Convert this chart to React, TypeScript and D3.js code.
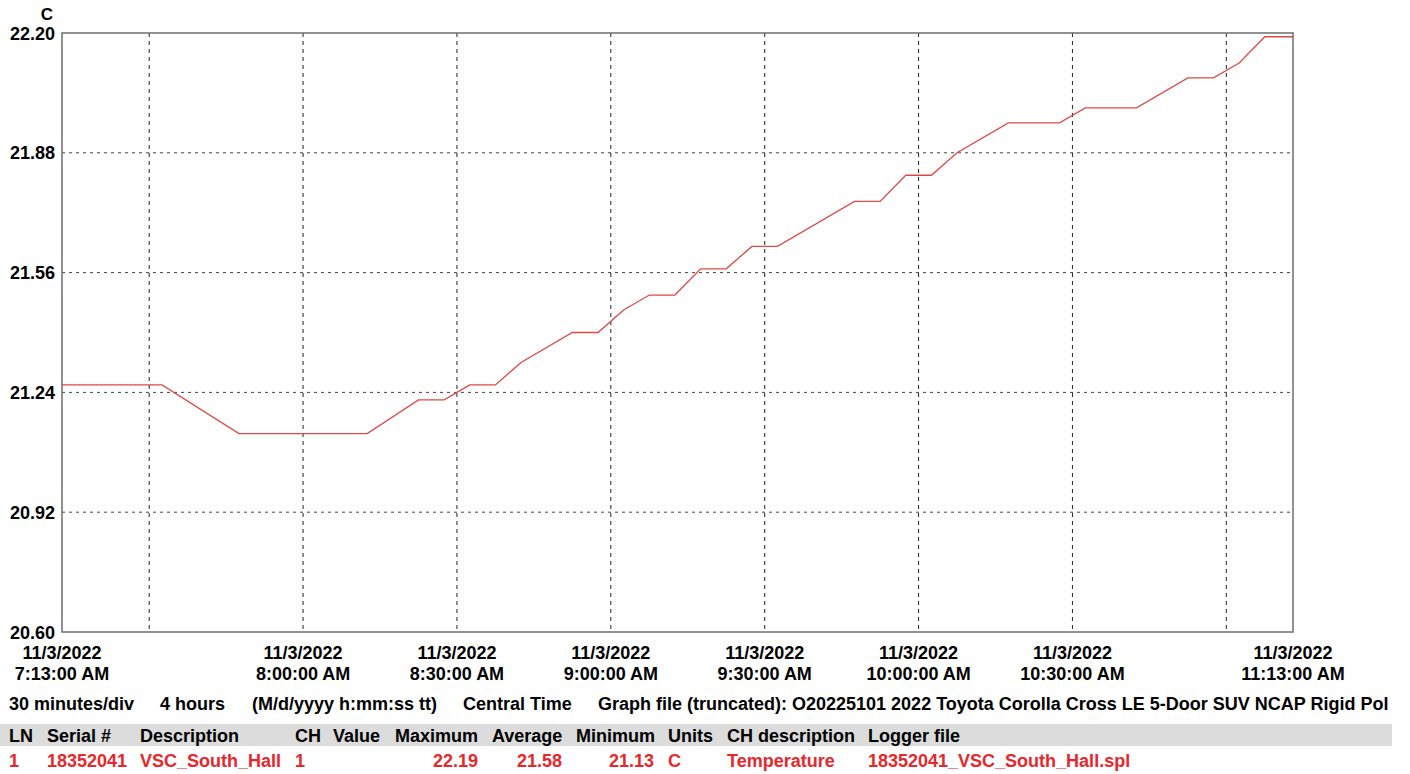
import React from "react";
import * as d3 from "d3";

const sampleTimes = [
  "7:13:00", "7:32:30", "7:47:30", "8:12:30", "8:22:30", "8:27:30", "8:32:30", "8:37:30",
  "8:42:30", "8:52:30", "8:57:30", "9:02:30", "9:07:30", "9:12:30", "9:17:30", "9:22:30",
  "9:27:30", "9:32:30", "9:47:30", "9:52:30", "9:57:30", "10:02:30", "10:07:30", "10:17:30",
  "10:27:30", "10:32:30", "10:42:30", "10:52:30", "10:57:30", "11:02:30", "11:07:30", "11:13:00",
];
const temperatures = [
  21.26, 21.26, 21.13, 21.13, 21.22, 21.22, 21.26, 21.26,
  21.32, 21.40, 21.40, 21.46, 21.50, 21.50, 21.57, 21.57,
  21.63, 21.63, 21.75, 21.75, 21.82, 21.82, 21.88, 21.96,
  21.96, 22.00, 22.00, 22.08, 22.08, 22.12, 22.19, 22.19,
];
const yTicks = [20.6, 20.92, 21.24, 21.56, 21.88, 22.2];
const xGridTimes = ["7:30:00", "8:00:00", "8:30:00", "9:00:00", "9:30:00", "10:00:00", "10:30:00", "11:00:00"];
const xLabelTimes = ["7:13:00", "8:00:00", "8:30:00", "9:00:00", "9:30:00", "10:00:00", "10:30:00", "11:13:00"];
const dateLabel = "11/3/2022";
const infoItems = [
  "30 minutes/div",
  "4 hours",
  "(M/d/yyyy h:mm:ss tt)",
  "Central Time",
  "Graph file (truncated): O20225101 2022 Toyota Corolla Cross LE 5-Door SUV NCAP Rigid Pol",
];
const headerCols = ["LN", "Serial #", "Description", "CH", "Value", "Maximum", "Average", "Minimum", "Units", "CH description", "Logger file"];
const rowValues = ["1", "18352041", "VSC_South_Hall", "1", "", "22.19", "21.58", "21.13", "C", "Temperature", "18352041_VSC_South_Hall.spl"];

const W = 1410;
const H = 774;
const margin = { left: 62, right: 117, top: 33, bottom: 142 };
const FONT = "'Liberation Sans', Arial, sans-serif";
const FS = 18;
const RED = "#e8262b";

const parse = d3.timeParse("%Y-%m-%d %H:%M:%S");
const toDate = (t: string) => parse("2022-11-03 " + t) as Date;

export default function App() {
  const x = d3
    .scaleTime()
    .domain([toDate("7:13:00"), toDate("11:13:00")])
    .range([margin.left, W - margin.right]);
  const y = d3
    .scaleLinear()
    .domain([20.6, 22.2])
    .range([H - margin.bottom, margin.top]);

  const data = sampleTimes.map((t, i) => ({ d: toDate(t), v: temperatures[i] }));
  const line = d3
    .line<{ d: Date; v: number }>()
    .x((p) => x(p.d))
    .y((p) => y(p.v));

  const fmtTime = (t: string) => d3.timeFormat("%-I:%M:%S %p")(toDate(t));

  const infoX = [9, 160, 252, 463, 598];
  const colX = [9, 47, 140, 295, 333, 395, 492, 576, 668, 727, 868];
  const rowAnchors: { x: number; anchor: "start" | "end" }[] = [
    { x: 9, anchor: "start" },
    { x: 47, anchor: "start" },
    { x: 140, anchor: "start" },
    { x: 295, anchor: "start" },
    { x: 333, anchor: "start" },
    { x: 478, anchor: "end" },
    { x: 562, anchor: "end" },
    { x: 654, anchor: "end" },
    { x: 668, anchor: "start" },
    { x: 727, anchor: "start" },
    { x: 868, anchor: "start" },
  ];

  const x0 = margin.left;
  const x1 = W - margin.right;
  const y0 = margin.top;
  const y1 = H - margin.bottom;

  return (
    <svg
      width={W}
      height={H}
      style={{ position: "absolute", left: 0, top: 0, background: "#fff" }}
      fontFamily={FONT}
      fontWeight="bold"
      fontSize={FS}
    >
      <rect x={0} y={0} width={W} height={H} fill="#fff" />
      {yTicks
        .filter((v) => v > 20.6 && v < 22.2)
        .map((v) => (
          <line key={"hg" + v} x1={x0} x2={x1} y1={y(v)} y2={y(v)} stroke="#444" strokeWidth={1} strokeDasharray="3,4" />
        ))}
      {xGridTimes.map((t) => (
        <line key={"vg" + t} x1={x(toDate(t))} x2={x(toDate(t))} y1={y0} y2={y1} stroke="#222" strokeWidth={1} strokeDasharray="4,4" />
      ))}
      <path d={line(data) || ""} fill="none" stroke="#dc4a47" strokeWidth={1.3} />
      <rect x={x0} y={y0} width={x1 - x0} height={y1 - y0} fill="none" stroke="#6e6e6e" strokeWidth={1.5} />
      <text x={47} y={20} textAnchor="middle" fontSize={FS - 1}>C</text>
      {yTicks.map((v) => (
        <text key={"yl" + v} x={55} y={y(v) + 6.5} textAnchor="end">
          {d3.format(".2f")(v)}
        </text>
      ))}
      {xLabelTimes.map((t) => (
        <g key={"xl" + t}>
          <text x={x(toDate(t))} y={659} textAnchor="middle">{dateLabel}</text>
          <text x={x(toDate(t))} y={680} textAnchor="middle">{fmtTime(t)}</text>
        </g>
      ))}
      {infoItems.map((s, i) => (
        <text key={"info" + i} x={infoX[i]} y={710}>{s}</text>
      ))}
      <rect x={0} y={724} width={1392} height={22} fill="#dcdcdc" />
      {headerCols.map((s, i) => (
        <text key={"hc" + i} x={colX[i]} y={742}>{s}</text>
      ))}
      {rowValues.map((s, i) => (
        <text key={"rv" + i} x={rowAnchors[i].x} y={767} textAnchor={rowAnchors[i].anchor} fill={RED}>{s}</text>
      ))}
    </svg>
  );
}
